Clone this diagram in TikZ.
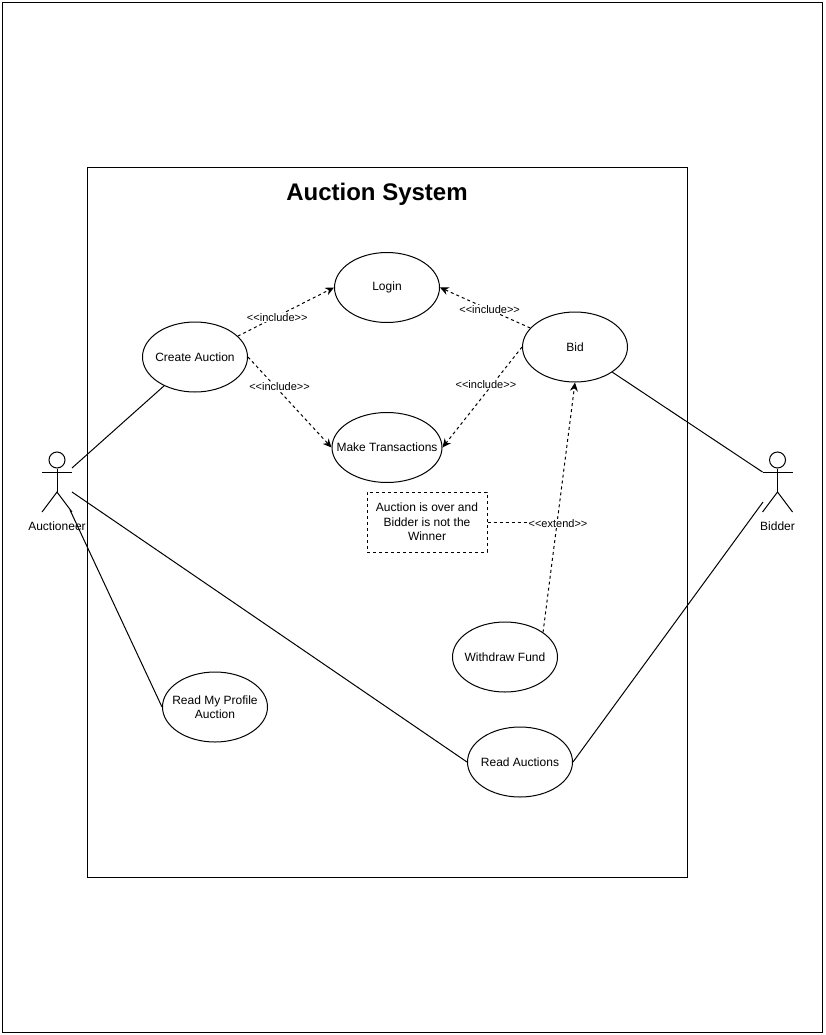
\documentclass[tikz,border=0pt]{standalone}
\usepackage{fontspec}
\setmainfont{Liberation Sans}
\usetikzlibrary{shapes.geometric,arrows.meta}
\tikzset{
  usecase/.style={draw,ellipse,inner ysep=0pt,inner xsep=-20pt,minimum width=78.75pt,minimum height=52.5pt,align=center,font=\fontsize{9}{10.9}\selectfont},
  notebox/.style={draw,dashed,dash pattern=on 2.25pt off 2.25pt,minimum width=90pt,minimum height=45pt,inner sep=0pt,align=center,font=\fontsize{9}{10.9}\selectfont},
  dep/.style={dash pattern=on 2.25pt off 2.25pt,-{Stealth[length=6.5pt,width=6pt]}},
  deplabel/.style={fill=white,inner sep=.5pt,font=\fontsize{8.25}{10}\selectfont},
  actorlabel/.style={font=\fontsize{9}{10.9}\selectfont,inner sep=0pt}
}
\begin{document}
\begin{tikzpicture}[x=.75pt,y=-.75pt,line width=.75pt]
    \useasboundingbox (0,0) rectangle (825,1035);
    \newcommand{\incl}{<{}<include>{}>}

    % frames
    \draw (2,2) rectangle (822,1032);
    \draw (87,167) rectangle (687,877);
    \node[font=\bfseries\fontsize{18}{22}\selectfont,inner sep=0pt] (title) at (377,194) {Auction System};

    % use cases
    \node[usecase] (create) at (195,357) {Create Auction};
    \node[usecase] (login) at (387,287.5) {Login};
    \node[usecase] (bid) at (575,347) {Bid};
    \node[usecase,minimum width=82.5pt] (transact) at (387,447.5) {Make Transactions};
    \node[usecase] (withdraw) at (505,657) {Withdraw Fund};
    \node[usecase] (profile) at (215,707) {Read My Profile\\Auction};
    \node[usecase] (read) at (520,762) {Read Auctions};
    \node[notebox] (note) at (427,522) {Auction is over and\\Bidder is not the\\Winner};

    % actors
    \foreach \who/\x/\name in {auctioneer/57/Auctioneer,bidder/777.5/Bidder}
    {
        \node[draw,circle,inner sep=0pt,minimum size=12pt] (\who) at (\x,460) {};
        \coordinate (\who hip) at (\x,492);
        \coordinate (\who larm) at (\x-15,472);
        \coordinate (\who rarm) at (\x+15,472);
        \coordinate (\who lleg) at (\x-15,512);
        \coordinate (\who rleg) at (\x+15,512);
        \draw (\who.south) -- (\who hip);
        \draw (\who larm) -- (\who rarm);
        \draw (\who lleg) -- (\who hip) -- (\who rleg);
        \node[actorlabel] (\who label) at (\x,526) {\name};
    }

    % free ends near the actors
    \coordinate (auctioneerup) at (72,468);
    \coordinate (auctioneerdown) at (72,492);
    \coordinate (auctioneerfoot) at (70,510);
    \coordinate (bidderdown) at (763,502);

    % associations
    \draw (auctioneerup) -- (create.223);
    \draw (auctioneerdown) -- (read.west);
    \draw (auctioneerfoot) -- (profile.west);
    \draw (bid.326) -- (bidderlarm);
    \draw (bidderdown) -- (read.east);

    % include and extend
    \draw[dep] (create.26) -- node[deplabel,pos=.41,yshift=-1pt] (lbla) {\incl} (login.west);
    \draw[dep] (create.east) -- node[deplabel,pos=.33,xshift=3pt] (lblb) {\incl} (transact.west);
    \draw[dep] (bid.157) -- node[deplabel,pos=.45] (lblc) {\incl} (login.east);
    \draw[dep] (bid.west) -- node[deplabel,pos=.37,xshift=-5pt] (lbld) {\incl} (transact.east);
    \draw[dep] (withdraw.33) -- (bid.south);
    \node[deplabel] (lble) at (558,523.5) {<{}<extend>{}>};
    \draw[dash pattern=on 2.25pt off 2.25pt] (note.east) -- (note.east -| lble.west);
\end{tikzpicture}
\end{document}
